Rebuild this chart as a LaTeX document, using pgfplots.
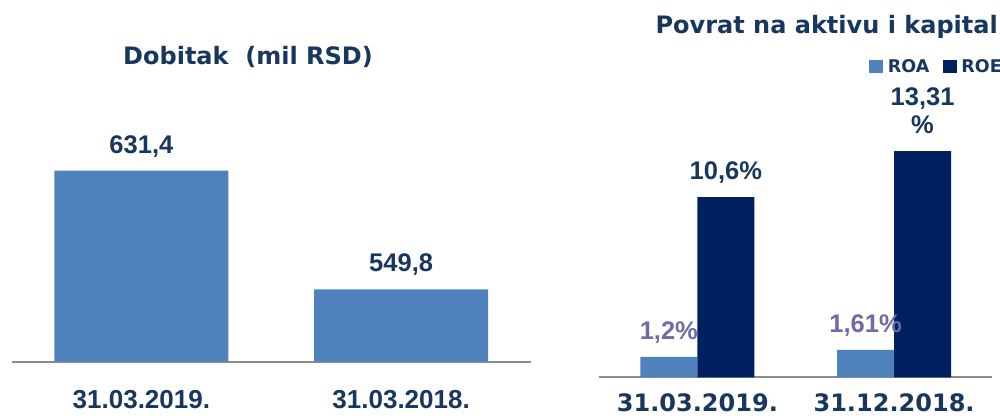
\documentclass[border=0pt]{standalone}
\usepackage{fontspec}
\setmainfont{Liberation Sans}
\newfontfamily\verd{DejaVu Sans}
\usepackage{pgfplots}
\pgfplotsset{compat=1.18}
\definecolor{navytxt}{HTML}{17375E}
\definecolor{barblue}{HTML}{4F81BD}
\definecolor{roe}{HTML}{002060}
\definecolor{roalbl}{HTML}{6F6BA3}
\definecolor{baseln}{HTML}{8C8C8C}

\begin{document}
\begin{tikzpicture}[x=1pt,y=1pt]

% left chart: Dobitak
\begin{axis}[
    ybar, bar width=174pt,
    at={(11.5pt,56.3pt)}, anchor=south west,
    scale only axis, width=519.5pt, height=290.7pt,
    xmin=0.5, xmax=2.5, ymin=500, ymax=700,
    axis y line=none, axis x line*=bottom,
    x axis line style={draw=baseln, line width=2pt},
    xtick={1,2}, xticklabels={31.03.2019.,31.03.2018.},
    ytick=\empty, major tick length=0pt,
    xticklabel style={anchor=base, yshift=-46.9pt, inner sep=0pt,
        font=\bfseries\fontsize{26}{30}\selectfont, text=navytxt},
    nodes near coords,
    every node near coord/.append style={anchor=south, yshift=17.5pt,
        inner sep=0pt, text depth=0pt,
        font=\bfseries\fontsize{25.5}{30}\selectfont, text=navytxt},
    /pgf/number format/.cd, use comma, fixed, fixed zerofill, precision=1,
        assume math mode=true
]
\addplot[fill=barblue, draw=none] coordinates {(1,631.4) (2,549.8)};
\end{axis}

% right chart: ROA / ROE
\begin{axis}[
    ybar=0pt, bar width=57pt,
    at={(599pt,40.7pt)}, anchor=south west,
    scale only axis, width=393.4pt, height=272pt,
    xmin=0.5, xmax=2.5, ymin=0, ymax=16,
    axis y line=none, axis x line*=bottom,
    x axis line style={draw=baseln, line width=2pt},
    xtick={1,2}, xticklabels={31.03.2019.,31.12.2018.},
    ytick=\empty, major tick length=0pt,
    xticklabel style={anchor=base, yshift=-34.5pt, inner sep=0pt, text depth=0pt,
        font=\verd\bfseries\fontsize{24}{28}\selectfont, text=navytxt},
    point meta=explicit symbolic,
    nodes near coords,
    every node near coord/.append style={anchor=south, yshift=17.5pt,
        inner sep=0pt, text depth=0pt, align=center,
        font=\bfseries\fontsize{25.5}{28}\selectfont},
    legend image code/.code={\fill[#1] (0pt,-6.7pt) rectangle (14pt,6.7pt);},
    legend style={draw=none, fill=none, inner sep=0pt, legend columns=2,
        at={(0.687,1.142)}, anchor=west,
        font=\verd\bfseries\fontsize{17.5}{20}\selectfont, text=navytxt,
        nodes={inner xsep=4.5pt},
        /tikz/every even column/.append style={column sep=9pt}}
]
\addplot[fill=barblue, draw=none,
    every node near coord/.append style={text=roalbl}]
    coordinates {(1,1.2) [1,2\%] (2,1.61) [1,61\%]};
\addplot[fill=roe, draw=none,
    every node near coord/.append style={text=navytxt}]
    coordinates {(1,10.6) [10,6\%] (2,13.31) [13,31\\\%]};
\legend{ROA,ROE}
\end{axis}

\node[anchor=base, font=\verd\bfseries\fontsize{24}{28}\selectfont, text=navytxt]
    at (248,353.7) {Dobitak\ \ (mil RSD)};
\node[anchor=base, font=\verd\bfseries\fontsize{24}{28}\selectfont, text=navytxt]
    at (826.7,384.7) {Povrat na aktivu i kapital};

\pgfresetboundingbox
\path[use as bounding box] (0,0) rectangle (1000,418);
\end{tikzpicture}
\end{document}
